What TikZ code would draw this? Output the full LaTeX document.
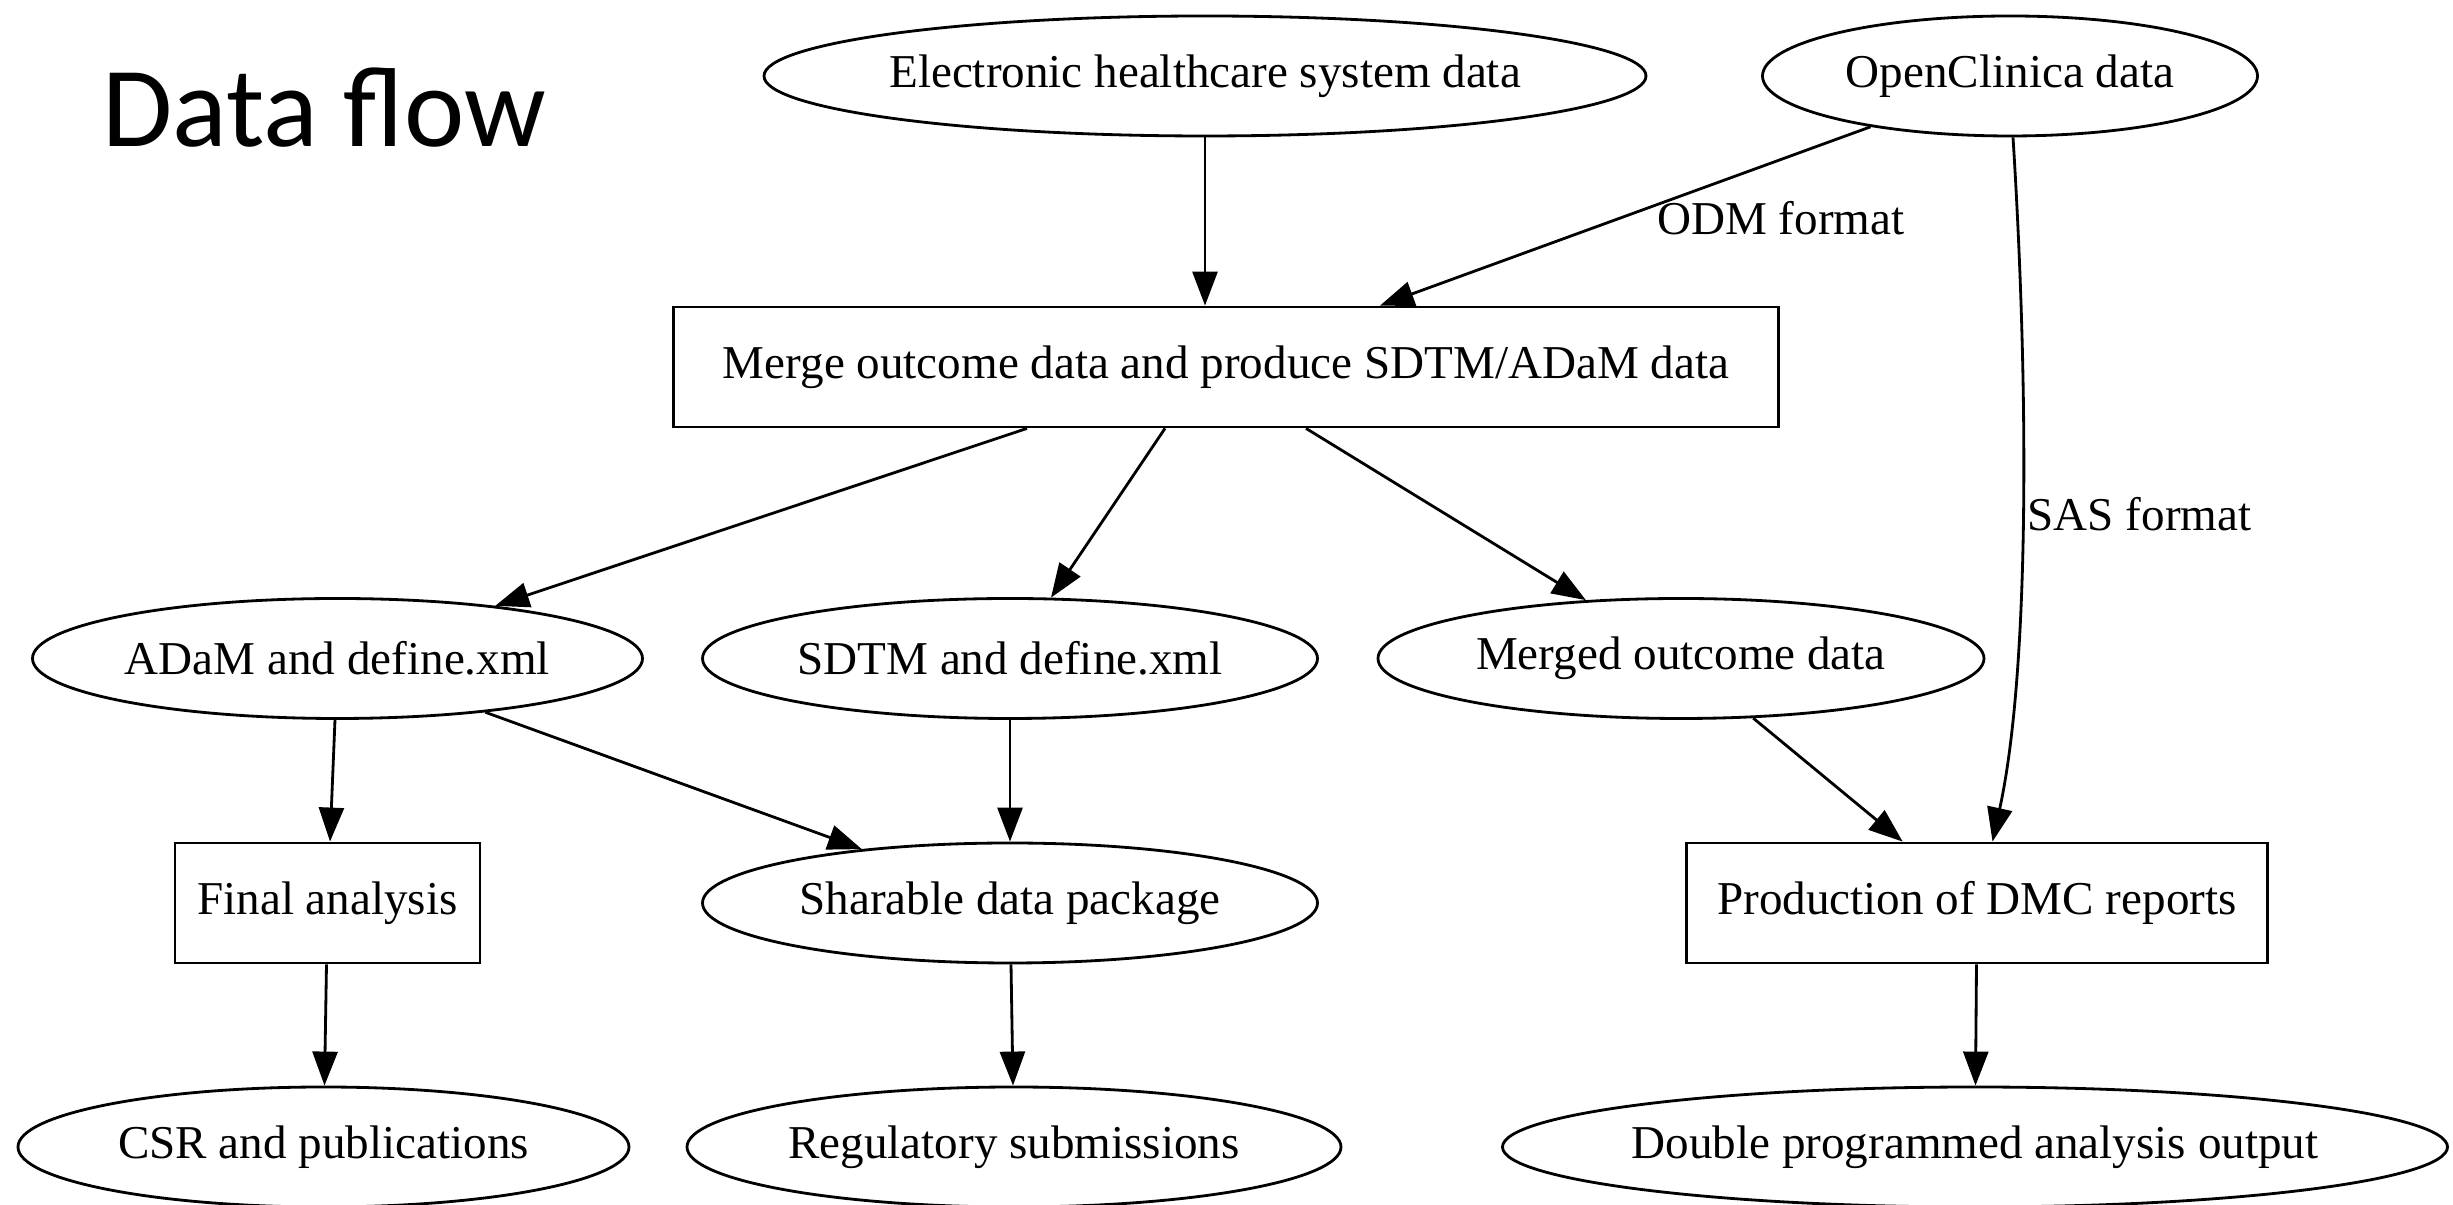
\documentclass[tikz,border=0pt]{standalone}
\usepackage{fontspec}
\setmainfont{Liberation Serif}
\newfontfamily\titlefont{Carlito}
\usepackage{tikz}
\usetikzlibrary{shapes,arrows.meta,positioning,calc}

\begin{document}
\begin{tikzpicture}[>={Triangle[length=3.4mm,width=2.5mm]},
    every node/.style={font=\fontsize{13.4}{15}\selectfont},
    datanode/.style={draw, ellipse, line width=0.8pt, inner xsep=-4pt, inner ysep=0pt, minimum height=1.2cm},
    procbox/.style={draw, rectangle, line width=0.8pt, inner sep=0pt, minimum height=1.2cm},
    flow/.style={->, line width=0.8pt},
    lbl/.style={inner sep=1pt}]
    \useasboundingbox (0,0) rectangle (24.53,-12.05);

    \node [anchor=base west, inner sep=0pt, font=\titlefont\fontsize{32.5}{38}\selectfont] (title) at (1.02,-1.47) {Data flow};

    % sources
    \node [datanode, minimum width=8.82cm] (EHR) at (12.05,-0.76) {Electronic healthcare system data};
    \node [datanode, minimum width=4.95cm] (OC) at (20.10,-0.76) {OpenClinica data};
    \node [procbox, minimum width=11.05cm] (Merge) at (12.26,-3.67) {Merge outcome data and produce SDTM/ADaM data};

    % derived data
    \node [datanode, minimum width=6.1cm] (ADaM) at (3.375,-6.585) {ADaM and define.xml};
    \node [datanode, minimum width=6.15cm] (SDTM) at (10.10,-6.585) {SDTM and define.xml};
    \node [datanode, minimum width=6.06cm] (Merged) at (16.81,-6.585) {Merged outcome data};
    \node [procbox, minimum width=3.05cm] (Final) at (3.275,-9.03) {Final analysis};
    \node [datanode, minimum width=6.15cm] (Share) at (10.10,-9.03) {Sharable data package};
    \node [procbox, minimum width=5.81cm] (DMC) at (19.77,-9.03) {Production of DMC reports};

    % outputs
    \node [datanode, minimum width=6.11cm] (CSR) at (3.235,-11.47) {CSR and publications};
    \node [datanode, minimum width=6.54cm] (Reg) at (10.14,-11.47) {Regulatory submissions};
    \node [datanode, minimum width=9.45cm] (Double) at (19.75,-11.47) {Double programmed analysis output};

    \draw [flow] (EHR.south) -- (EHR.south |- Merge.north);
    \draw [flow] (OC) -- ([xshift=1.54cm]Merge.north) node [lbl, pos=0.51, anchor=west, xshift=0.32cm] {ODM format};
    \draw [flow] ([xshift=0.03cm]OC.south) .. controls +(0.16,-2.55) and +(0.37,1.69) .. ([xshift=0.155cm]DMC.north) node [lbl, pos=0.49, anchor=west] {SAS format};

    \draw [flow] ([xshift=-1.99cm]Merge.south) -- (ADaM);
    \draw [flow] ([xshift=-0.61cm]Merge.south) -- (SDTM);
    \draw [flow] ([xshift=0.80cm]Merge.south) -- (Merged);

    \draw [flow] (ADaM) -- (Final);
    \draw [flow] (ADaM) -- (Share);
    \draw [flow] (SDTM) -- (Share);
    \draw [flow] (Merged) -- (DMC);

    \draw [flow] (Final) -- (CSR);
    \draw [flow] (Share) -- (Reg);
    \draw [flow] (DMC) -- (Double);
\end{tikzpicture}
\end{document}
